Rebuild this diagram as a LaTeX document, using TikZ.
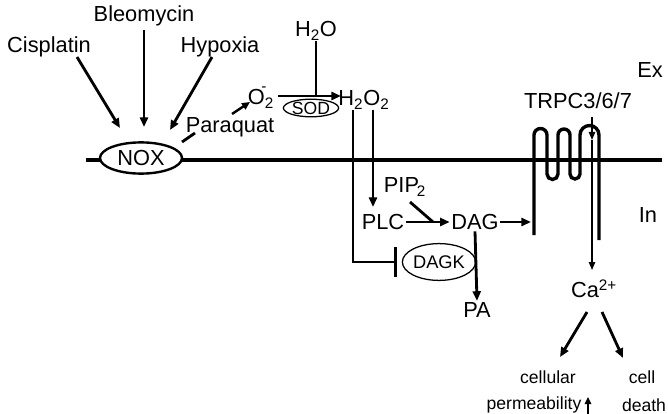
\documentclass[tikz,border=0pt]{standalone}
\usepackage{fontspec}
\setmainfont{Liberation Sans}
\usetikzlibrary{arrows.meta,shapes.geometric}

\begin{document}
\begin{tikzpicture}[x=0.025cm,y=0.025cm,>={Triangle[length=2.4mm,width=2mm]},
   lbl/.style={inner sep=1pt,font=\fontsize{15.5}{18}\selectfont},
   sm/.style={inner sep=1pt,font=\fontsize{12.5}{15}\selectfont},
   el/.style={draw,ellipse,fill=white,inner sep=0pt},
   arr/.style={->,line width=2pt},
   mem/.style={line width=2.4pt}]
  \useasboundingbox (0,0) rectangle (668,-413);
  % membrane
  \draw[mem] (86,-160) -- (662,-160);
  \node[el,line width=1.7pt,minimum width=2.05cm,minimum height=0.78cm,font=\fontsize{15.5}{18}\selectfont] (nox) at (141,-158) {NOX};
  % extracellular side
  \node[lbl] (cis) at (49,-47) {Cisplatin};
  \node[lbl] (bleo) at (144,-16) {Bleomycin};
  \node[lbl] (hyp) at (220,-47) {Hypoxia};
  \node[lbl] (para) at (230,-127) {Paraquat};
  \node[lbl,inner sep=0pt] (o2) at (261,-98) {O\rlap{\kern-2.5pt\raisebox{4pt}{\textsuperscript{-}}}\textsubscript{2}};
  \node[lbl] (h2o) at (316,-31) {H\textsubscript{2}O};
  \node[el,line width=0.9pt,minimum width=1.38cm,minimum height=0.42cm,font=\fontsize{12.5}{13}\selectfont] (sod) at (311,-108) {SOD};
  \node[lbl] (h2o2) at (364,-100) {H\textsubscript{2}O\textsubscript{2}};
  \node[lbl] (trpc) at (578,-101) {TRPC3/6/7};
  \node[lbl] (ex) at (650,-70) {Ex};
  \node[lbl] (in) at (648,-215) {In};
  \draw[arr] ([shift={(28,-10)}]cis.center) -- ([shift={(-21,30)}]nox.center);
  \draw[arr] ([shift={(0,-14)}]bleo.center) -- ([shift={(3,31)}]nox.center);
  \draw[arr] ([shift={(-8,-10)}]hyp.center) -- ([shift={(29,28)}]nox.center);
  \draw[line width=2pt] ([shift={(-35,-6)}]para.center) -- ([shift={(41,16)}]nox.center);
  \draw[->,line width=1.7pt,>={Triangle[length=2mm,width=1.8mm]}] ([shift={(2,13)}]para.center) -- ([shift={(-11,-4)}]o2.center);
  \draw[arr] ([shift={(17,2)}]o2.center) -- ([shift={(-23,4)}]h2o2.center);
  \draw[line width=2pt] ([shift={(0,-10)}]h2o.center) -- ([shift={(-48,4)}]h2o2.center);
  % channel
  \coordinate (legL) at (531,-222);
  \draw[mem] (534,-235) -- (534,-135) arc (180:0:6.5) -- (547,-174) arc (180:360:5.5)
    -- (558,-135) arc (180:0:6) -- (570,-174) arc (180:360:5)
    -- (580,-135) arc (180:0:9.5) -- (599,-240);
  % intracellular side
  \node[lbl] (pip) at (405,-187) {PIP\kern-1.5pt\textsubscript{2}};
  \node[lbl] (plc) at (383,-222) {PLC};
  \node[lbl] (dag) at (475,-222) {DAG};
  \node[el,line width=0.9pt,minimum width=1.7cm,minimum height=0.92cm,font=\fontsize{13}{15}\selectfont] (dagk) at (439,-262) {DAGK};
  \node[lbl] (pa) at (477,-310) {PA};
  \node[lbl] (ca) at (594,-289) {Ca\textsuperscript{2+}};
  \node[sm] (cellular) at (548,-377) {cellular};
  \node[sm] (perm) at (534,-405) {permeability};
  \node[sm] (cell) at (642,-377) {cell};
  \node[sm] (death) at (644,-405) {death};
  \draw[line width=2pt,-{Bar[width=7.3mm]}] ([shift={(-11,-10)}]h2o2.center) |- ([shift={(-42,0)}]dagk.center);
  \draw[arr] ([shift={(9,-10)}]h2o2.center) -- ([shift={(-10,15)}]plc.center);
  \draw[arr] (plc.east) -- (dag.west);
  \draw[line width=2pt] ([shift={(5,-15)}]pip.center) -- ([shift={(-42,0)}]dag.center);
  \draw[arr] (dag.east) -- (legL);
  \draw[arr] (dag.south) -- (pa.north);
  \draw[->,line width=0.9pt,>={Triangle[length=2mm,width=1.6mm]}] ([shift={(14,-16)}]trpc.center) -- ([shift={(14,-39)}]trpc.center);
  \draw[->,line width=0.9pt,>={Triangle[length=2mm,width=1.6mm]}] ([shift={(14,-39)}]trpc.center) -- ([shift={(-2,19)}]ca.center);
  \draw[arr] ([shift={(-7,-23)}]ca.center) -- ([shift={(12,20)}]cellular.center);
  \draw[arr] ([shift={(8,-23)}]ca.center) -- ([shift={(-19,19)}]cell.center);
  \draw[->,line width=1.4pt,>={Triangle[length=1.8mm,width=1.6mm]}] ([shift={(54,-9)}]perm.center) -- ([shift={(54,8)}]perm.center);
\end{tikzpicture}
\end{document}
